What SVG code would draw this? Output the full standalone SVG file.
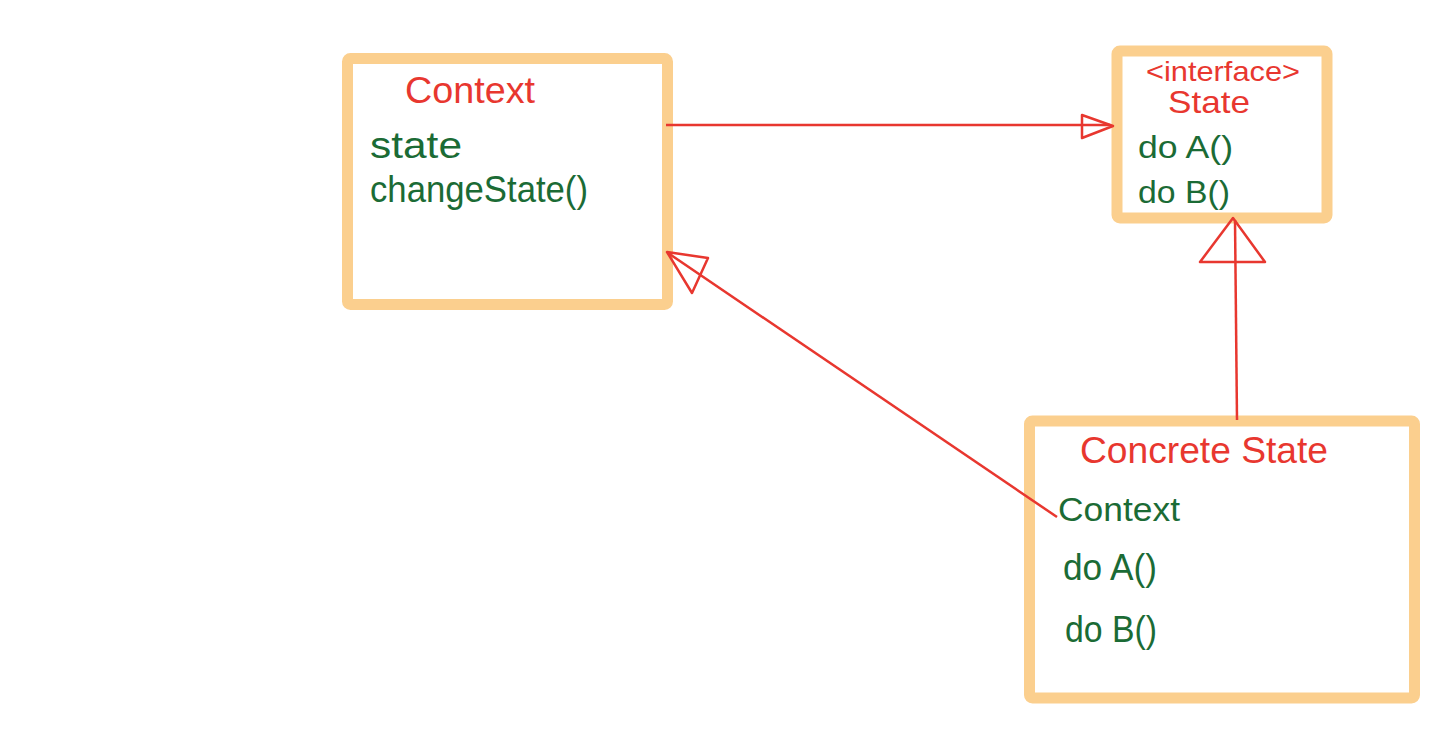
<svg xmlns="http://www.w3.org/2000/svg" width="1450" height="740" viewBox="0 0 1450 740">
<style>
.box{fill:#fff;stroke:#FBCF8E;stroke-width:11}
.t{fill:#E8372F;font-family:"Liberation Sans",Arial,sans-serif}
.g{fill:#1B6B35;font-family:"Liberation Sans",Arial,sans-serif}
.ln{stroke:#E8372F;stroke-width:2.5;fill:none;stroke-linejoin:round}
</style>
<rect width="1450" height="740" fill="#fff"/>
<g id="context">
<rect class="box" x="347.5" y="58.5" width="320" height="246" rx="3"/>
<text class="t" x="405" y="103" font-size="36" textLength="130" lengthAdjust="spacingAndGlyphs">Context</text>
<text class="g" x="370" y="158" font-size="36" textLength="92" lengthAdjust="spacingAndGlyphs">state</text>
<text class="g" x="370" y="202" font-size="36" textLength="218" lengthAdjust="spacingAndGlyphs">changeState()</text>
</g>
<g id="state">
<rect class="box" x="1117" y="51" width="210" height="167" rx="3"/>
<text class="t" x="1146" y="81" font-size="28" textLength="154" lengthAdjust="spacingAndGlyphs">&lt;interface&gt;</text>
<text class="t" x="1168" y="113" font-size="32" textLength="82" lengthAdjust="spacingAndGlyphs">State</text>
<text class="g" x="1138" y="158" font-size="32" textLength="95" lengthAdjust="spacingAndGlyphs">do A()</text>
<text class="g" x="1138" y="203" font-size="32" textLength="92" lengthAdjust="spacingAndGlyphs">do B()</text>
</g>
<g id="concrete">
<rect class="box" x="1029.5" y="421" width="385" height="277" rx="3"/>
<text class="t" x="1080" y="463" font-size="36" textLength="248" lengthAdjust="spacingAndGlyphs">Concrete State</text>
<text class="g" x="1058" y="521" font-size="34" textLength="122" lengthAdjust="spacingAndGlyphs">Context</text>
<text class="g" x="1063" y="580" font-size="36" textLength="94" lengthAdjust="spacingAndGlyphs">do A()</text>
<text class="g" x="1065" y="642" font-size="36" textLength="92" lengthAdjust="spacingAndGlyphs">do B()</text>
</g>
<g id="connectors">
<path class="ln" d="M666 125 L1110 125"/>
<path class="ln" d="M1082 115 L1113 126 L1082 138 Z"/>
<path class="ln" d="M1237 420 L1235 220"/>
<path class="ln" d="M1233 218 L1200 262 L1265 262 Z"/>
<path class="ln" d="M1057 517 L668 253"/>
<path class="ln" d="M667 252 L708 258 L692 293 Z"/>
</g>
</svg>
